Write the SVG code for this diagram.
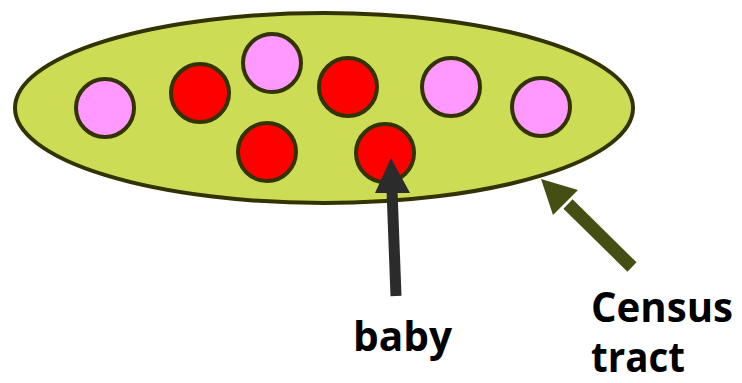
<svg xmlns="http://www.w3.org/2000/svg" width="742" height="383" viewBox="0 0 742 383">
<style>
.c{stroke:#333300;stroke-width:4}
.pink{fill:#FF99FF}
.red{fill:#FF0000}
.t{font-family:"Open Sans","Liberation Sans",sans-serif;font-weight:700;font-size:41px;fill:#000}
</style>
<rect width="742" height="383" fill="#fff"/>
<g id="tract"><ellipse cx="324" cy="108" rx="309" ry="95" fill="#CCDD55" stroke="#333300" stroke-width="4"/></g>
<g id="p1"><circle class="c pink" cx="105" cy="108" r="29"/></g>
<g id="r1"><circle class="c red" cx="200" cy="93" r="29"/></g>
<g id="p2"><circle class="c pink" cx="272" cy="63" r="29"/></g>
<g id="r2"><circle class="c red" cx="348" cy="87" r="29"/></g>
<g id="r3"><circle class="c red" cx="267" cy="152" r="29"/></g>
<g id="baby-node"><circle class="c red" cx="385" cy="153" r="29"/></g>
<g id="p3"><circle class="c pink" cx="451" cy="87" r="29"/></g>
<g id="p4"><circle class="c pink" cx="541" cy="107" r="29"/></g>
<g id="connectors">
<line x1="396" y1="296" x2="392" y2="190" stroke="#2b2b2b" stroke-width="11"/>
<polygon points="391,158 410,193 375,193" fill="#2b2b2b"/>
<line x1="632" y1="267" x2="568" y2="204" stroke="#454f13" stroke-width="13"/>
<polygon points="541,179 578,190 553,215" fill="#454f13"/>
</g>
<g id="labels">
<text class="t" x="353" y="351" textLength="99" lengthAdjust="spacingAndGlyphs">baby</text>
<text class="t" x="591" y="322" textLength="142" lengthAdjust="spacingAndGlyphs">Census</text>
<text class="t" x="591" y="372" textLength="94" lengthAdjust="spacingAndGlyphs">tract</text>
</g>
</svg>
